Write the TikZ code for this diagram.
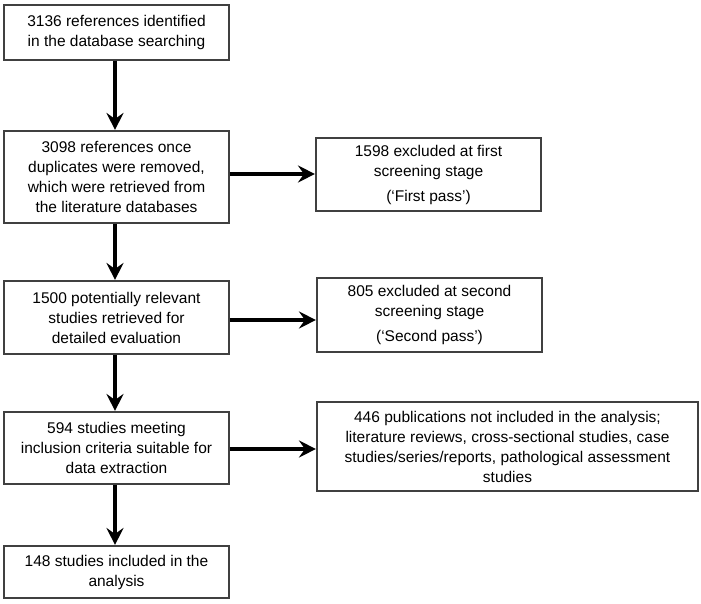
\documentclass[tikz,border=0pt]{standalone}
\usepackage{fontspec}
\setmainfont{Liberation Sans}
\usetikzlibrary{arrows.meta}
\begin{document}
\begin{tikzpicture}[x=1pt,y=-1pt,
  box/.style={draw=black!75, line width=1.1pt, rectangle, align=center, inner sep=0pt,
    font=\fontsize{15.5}{20}\selectfont},
  arr/.style={line width=3.5pt, -{Stealth[length=17pt,width=17pt,inset=6pt]}, shorten >=0.5pt}
]
\useasboundingbox (0,0) rectangle (701,604);
\node[box, minimum width=225pt, minimum height=55pt] (b1) at (116.5,32.5)
  {3136 references identified\\in the database searching};
\node[box, minimum width=225pt, minimum height=92pt] (b2) at (116.5,177)
  {3098 references once\\duplicates were removed,\\which were retrieved from\\the literature databases};
\node[box, minimum width=225pt, minimum height=73pt] (b3) at (428.5,174.5)
  {1598 excluded at first\\screening stage\\[5pt](‘First pass’)};
\node[box, minimum width=225pt, minimum height=73pt] (b4) at (116.5,317.5)
  {1500 potentially relevant\\studies retrieved for\\detailed evaluation};
\node[box, minimum width=225pt, minimum height=74pt] (b5) at (429.5,315)
  {805 excluded at second\\screening stage\\[5pt](‘Second pass’)};
\node[box, minimum width=225pt, minimum height=72pt] (b6) at (116.5,448)
  {594 studies meeting\\inclusion criteria suitable for\\data extraction};
\node[box, minimum width=381pt, minimum height=89pt] (b7) at (507.5,446.5)
  {446 publications not included in the analysis;\\literature reviews,  cross-sectional studies, case\\studies/series/reports, pathological assessment\\studies};
\node[box, minimum width=225pt, minimum height=52pt] (b8) at (116.5,572)
  {148 studies included in the\\analysis};
\draw[arr] ([xshift=-1.5pt]b1.south) -- ([xshift=-1.5pt]b2.north);
\draw[arr] ([xshift=-1.5pt]b2.south) -- ([xshift=-1.5pt]b4.north);
\draw[arr] ([xshift=-1.5pt]b4.south) -- ([xshift=-1.5pt]b6.north);
\draw[arr] ([xshift=-1.5pt]b6.south) -- ([xshift=-1.5pt]b8.north);
\draw[arr] ([yshift=3pt]b2.east) -- ([yshift=3pt]b2.east -| b3.west);
\draw[arr] ([yshift=-2.5pt]b4.east) -- ([yshift=-2.5pt]b4.east -| b5.west);
\draw[arr] ([yshift=-1pt]b6.east) -- ([yshift=-1pt]b6.east -| b7.west);
\end{tikzpicture}
\end{document}
